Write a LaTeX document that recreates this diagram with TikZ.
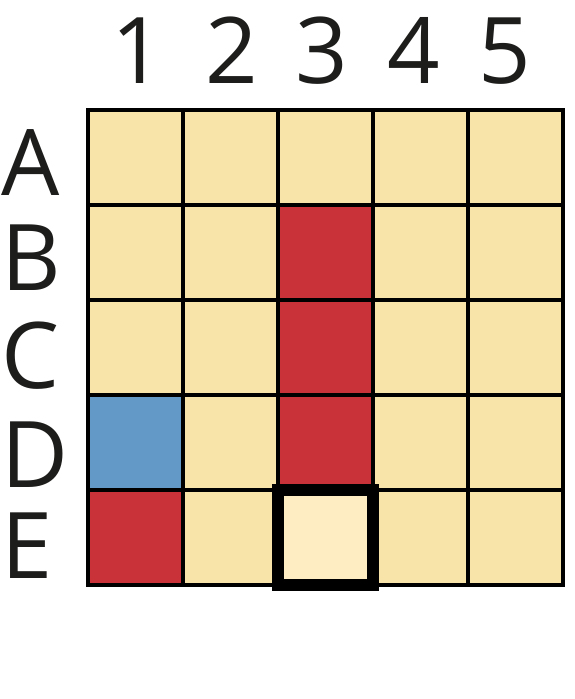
\documentclass[tikz,border=0pt]{standalone}
\usepackage{fontspec}
\setmainfont{Open Sans}
\definecolor{cellyellow}{HTML}{F8E4A8}
\definecolor{celllight}{HTML}{FEEDC3}
\definecolor{cellred}{HTML}{C83238}
\definecolor{cellblue}{HTML}{6399C6}
\definecolor{labelink}{HTML}{1D1D1B}
\tikzset{
  lbl/.style={font=\fontsize{92}{92}\selectfont, text=labelink, inner sep=0pt, anchor=base},
  rowlbl/.style={lbl, anchor=base west},
  gridline/.style={line width=4pt, draw=black},
}
\begin{document}
\begin{tikzpicture}[x=1pt,y=-1pt]
\useasboundingbox (0,0) rectangle (574,699);
% background cells
\fill[cellyellow] (88,110) rectangle (563,585);
\fill[cellred] (278,205) rectangle (373,490);
\fill[cellblue] (88,395) rectangle (183,490);
\fill[cellred] (88,490) rectangle (183,585);
% grid
\foreach \i in {0,...,5} {
  \draw[gridline] (88+95*\i,108) -- (88+95*\i,587);
  \draw[gridline] (86,110+95*\i) -- (565,110+95*\i);
}
% highlighted cell E3
\draw[line width=12pt, fill=celllight] (278,490) rectangle (373,585);
% column labels
\node[lbl] (c1) at (138,83) {1};
\node[lbl] (c2) at (232,83) {2};
\node[lbl] (c3) at (322,83) {3};
\node[lbl] (c4) at (414,83) {4};
\node[lbl] (c5) at (505,83) {5};
% row labels
\node[rowlbl] (rA) at (1,195) {A};
\node[rowlbl] (rB) at (1,290) {B};
\node[rowlbl] (rC) at (1,388) {C};
\node[rowlbl] (rD) at (1,487) {D};
\node[rowlbl] (rE) at (1,578) {E};
\end{tikzpicture}
\end{document}
